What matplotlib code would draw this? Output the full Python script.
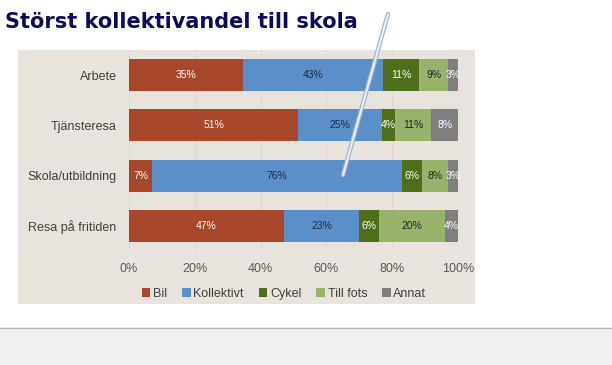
"""Färdmedelsfördelning per ärende som 100 % staplat liggande stapeldiagram."""

import matplotlib

matplotlib.use("Agg")

import matplotlib.pyplot as plt  # noqa: E402
import numpy as np  # noqa: E402
from matplotlib.patches import Rectangle  # noqa: E402
from matplotlib.lines import Line2D  # noqa: E402

TITLE = "Störst kollektivandel till skola"

categories = ["Arbete", "Tjänsteresa", "Skola/utbildning", "Resa på fritiden"]
modes = ["Bil", "Kollektivt", "Cykel", "Till fots", "Annat"]

# andel i procent per färdmedel, samma ordning som categories
bil = [35, 51, 7, 47]
kollektivt = [43, 25, 76, 23]
cykel = [11, 4, 6, 6]
till_fots = [9, 11, 8, 20]
annat = [3, 8, 3, 4]

x_ticks = [0, 20, 40, 60, 80, 100]

COLORS = ["#a8472a", "#5b8fc9", "#4e6e19", "#99b36a", "#7f7f7f"]
LABEL_COLORS = ["white", "#1f2a44", "white", "#222222", "white"]
PANEL = "#e9e3dd"

W, H = 612, 365
fig = plt.figure(figsize=(W / 100, H / 100), dpi=100)
fig.patch.set_facecolor("white")

# nedre grå list och beige diagramyta
fig.add_artist(Rectangle((0, 0), 1, (H - 328) / H, transform=fig.transFigure,
                         facecolor="#f0f0f0", edgecolor="none", zorder=0))
fig.add_artist(Line2D([0, 1], [(H - 328) / H] * 2, transform=fig.transFigure,
                      color="#b4b8c8", lw=1.0))
fig.add_artist(Rectangle((18 / W, (H - 304) / H), (475 - 18) / W, (304 - 50) / H,
                         transform=fig.transFigure, facecolor=PANEL,
                         edgecolor="none", zorder=0))

fig.text(5 / W, 1 - 22 / H, TITLE, fontsize=15, fontweight="bold",
         color="#0d0a5c", va="center", ha="left", family="DejaVu Sans")

ax = fig.add_axes([129 / W, (H - 251) / H, (458 - 129) / W, (251 - 50) / H])
ax.set_facecolor("none")

data = np.array([bil, kollektivt, cykel, till_fots, annat], dtype=float)
shares = data / data.sum(axis=0) * 100  # Excel normaliserar till 100 %
y = np.arange(len(categories))
left = np.zeros(len(categories))
for i, mode in enumerate(modes):
    ax.barh(y, shares[i], left=left, height=0.64, color=COLORS[i],
            label=mode, zorder=2)
    for j in range(len(categories)):
        ax.text(left[j] + shares[i][j] / 2, y[j], f"{int(data[i][j])}%",
                ha="center", va="center", fontsize=7.5,
                color=LABEL_COLORS[i], family="Liberation Sans", zorder=3)
    left += shares[i]

ax.set_xlim(0, 100)
ax.set_ylim(len(categories) - 0.5, -0.5)
ax.set_xticks(x_ticks)
ax.set_xticklabels([f"{t}%" for t in x_ticks], family="Liberation Sans",
                   fontsize=9, color="#595959")
ax.set_yticks(y)
ax.set_yticklabels(categories, family="Liberation Sans", fontsize=9,
                   color="#404040")
ax.tick_params(length=0, pad=9)
ax.tick_params(axis="x", pad=9)
ax.grid(axis="x", color="#ded8d1", lw=0.8, zorder=1)
for s in ax.spines.values():
    s.set_visible(False)

leg = fig.legend(loc="center", bbox_to_anchor=(284 / W, 1 - 294 / H), ncol=5,
                 frameon=False, handlelength=0.7, handleheight=0.7,
                 handletextpad=0.2, columnspacing=1.2,
                 prop={"family": "Liberation Sans", "size": 9})
for t in leg.get_texts():
    t.set_color("#404040")

# snett streck med pil som ligger över bilden
x0, y0, x1, y1 = 388 / W, 1 - 14 / H, 343 / W, 1 - 175 / H
fig.add_artist(Line2D([x0, x1], [y0, y1], transform=fig.transFigure,
                      color="#9fb6cf", lw=3.2, solid_capstyle="round", zorder=5))
fig.add_artist(Line2D([x0, x1], [y0, y1], transform=fig.transFigure,
                      color="#eef2f7", lw=1.4, solid_capstyle="round", zorder=6))

fig.savefig("out.png", dpi=100, facecolor=fig.get_facecolor())
